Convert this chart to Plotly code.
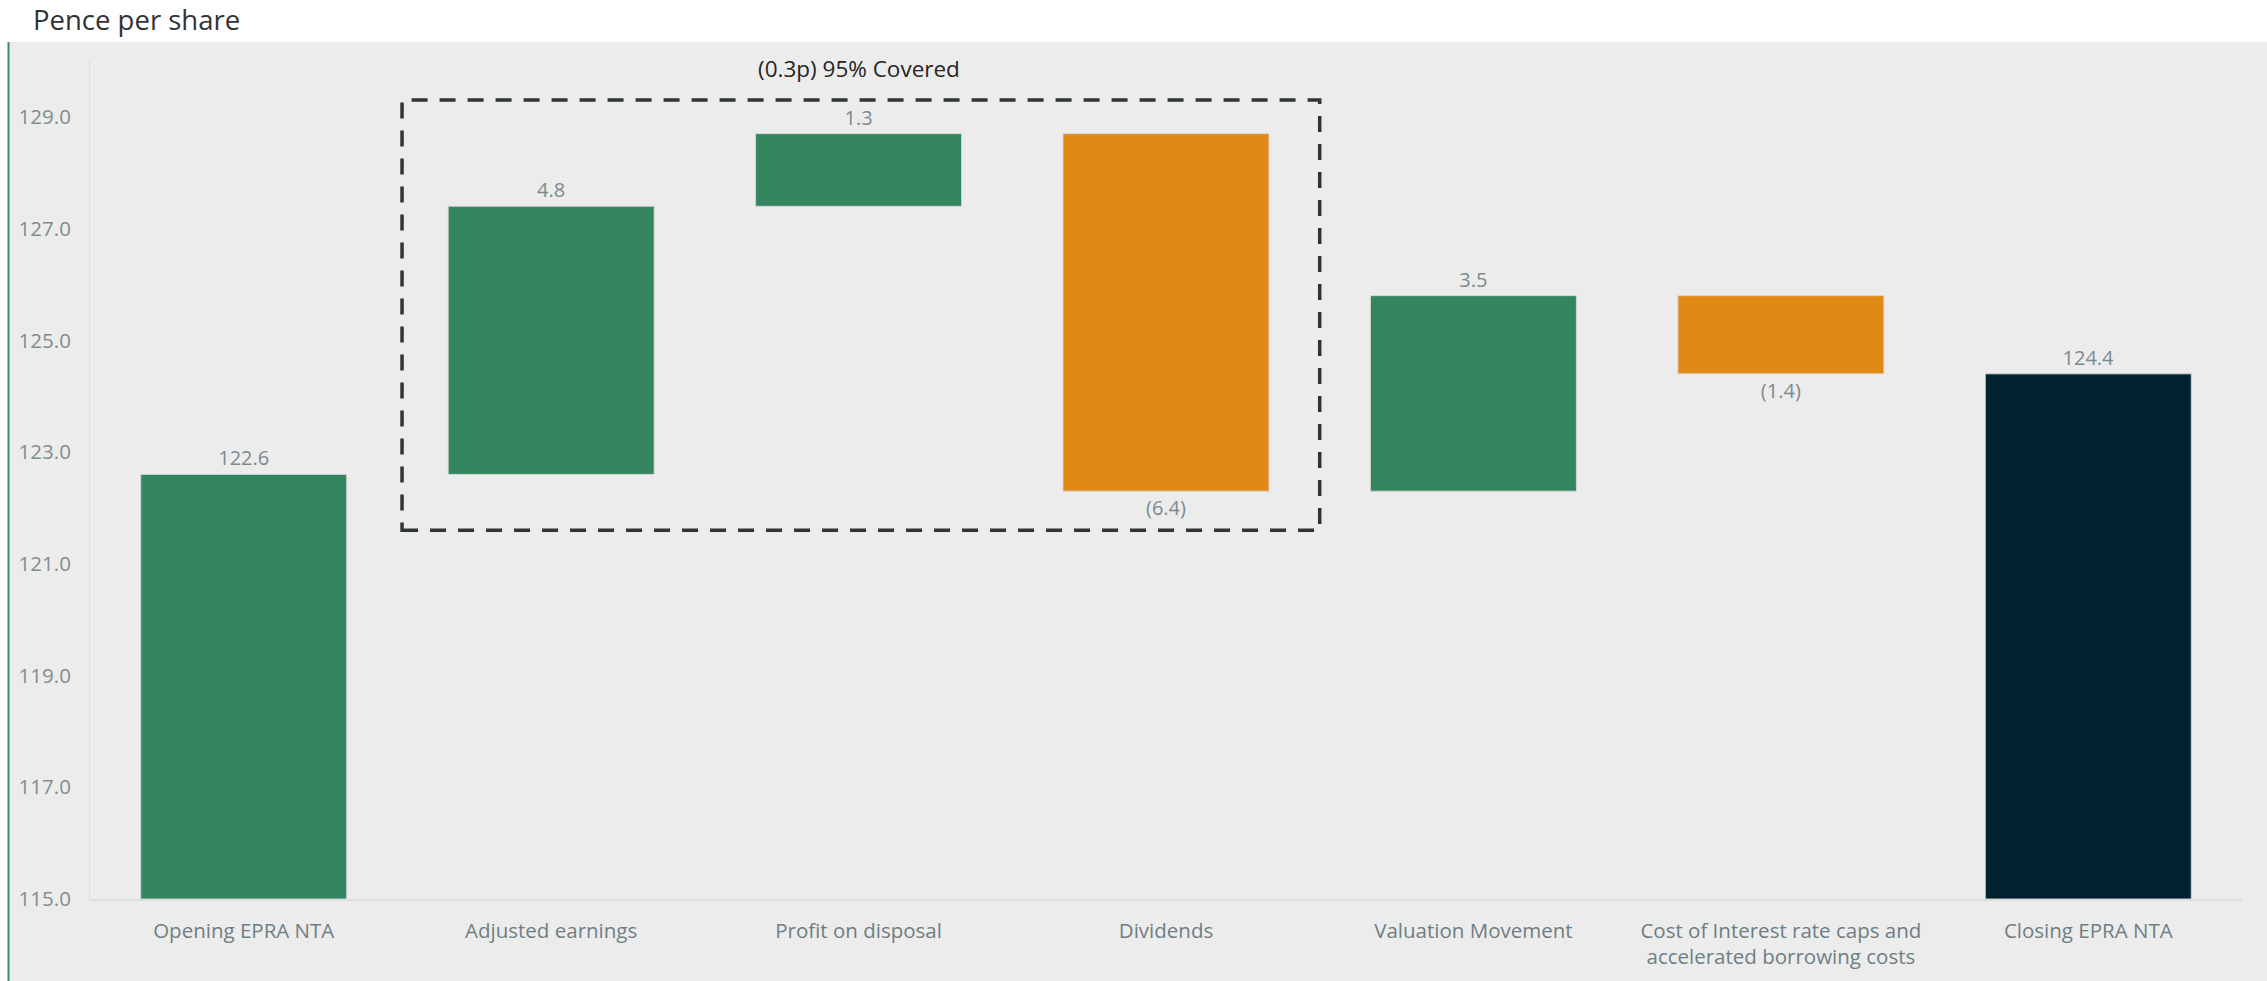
import plotly.graph_objects as go

categories = ["Opening EPRA NTA", "Adjusted earnings", "Profit on disposal", "Dividends",
              "Valuation Movement", "Cost of Interest rate caps and<br>accelerated borrowing costs",
              "Closing EPRA NTA"]
opening = 122.6
movements = [4.8, 1.3, -6.4, 3.5, -1.4]
closing = 124.4
floor_value = 115.0
y_ticks = [115, 117, 119, 121, 123, 125, 127, 129]
box_note = "(0.3p) 95% Covered"

GREEN = "#33865f"
ORANGE = "#e08915"
NAVY = "#03222f"
LABEL = "#7b8a90"

# build bars
bases, heights, colors, texts = [], [], [], []
bases.append(floor_value); heights.append(opening - floor_value); colors.append(GREEN); texts.append(f"{opening:.1f}")
level = opening
for m in movements:
    bases.append(level); heights.append(m)
    colors.append(GREEN if m >= 0 else ORANGE)
    texts.append(f"{m:.1f}" if m >= 0 else f"({abs(m):.1f})")
    level += m
bases.append(floor_value); heights.append(closing - floor_value); colors.append(NAVY); texts.append(f"{closing:.1f}")

W, H = 2267, 981
L, R, T, B = 90, 25, 61, 82
pw, ph = W - L - R, H - T - B

def px_x(px):
    return (px - L) / pw

def px_y(py):
    return (H - B - py) / ph

fig = go.Figure()
fig.add_trace(go.Bar(
    x=list(range(len(categories))), y=heights, base=bases,
    marker=dict(color=colors, line=dict(color="rgba(215,215,215,0.9)", width=1)),
    width=0.67,
    text=texts, textposition="outside",
    outsidetextfont=dict(family="Open Sans", size=20, color=LABEL),
    cliponaxis=False, hoverinfo="skip",
))

shapes = [
    # white top band and left strip
    dict(type="rect", xref="paper", yref="paper", x0=px_x(-5), x1=px_x(W + 5), y0=px_y(42), y1=px_y(-5),
         fillcolor="white", line=dict(width=0), layer="below"),
    dict(type="rect", xref="paper", yref="paper", x0=px_x(-5), x1=px_x(8), y0=px_y(H + 5), y1=px_y(-5),
         fillcolor="white", line=dict(width=0), layer="below"),
    dict(type="line", xref="paper", yref="paper", x0=px_x(8.5), x1=px_x(8.5), y0=px_y(H + 5), y1=px_y(42),
         line=dict(color="#3a8f63", width=2)),
    # dashed box
    dict(type="rect", xref="x", yref="y", x0=0.515, x1=3.5, y0=121.6, y1=129.3,
         line=dict(color="#2f3536", width=3.5, dash="16px,12px"), fillcolor="rgba(0,0,0,0)"),
]

fig.update_layout(
    width=W, height=H,
    margin=dict(l=L, r=R, t=T, b=B),
    paper_bgcolor="#ececec", plot_bgcolor="#ececec",
    showlegend=False,
    shapes=shapes,
    bargap=0.33,
    annotations=[
        dict(text="Pence per share", xref="paper", yref="paper", x=px_x(31), y=px_y(20),
             xanchor="left", yanchor="middle", showarrow=False,
             font=dict(family="Open Sans", size=27.5, color="#333333")),
        dict(text=box_note, xref="x", yref="y", x=2, y=129.86, xanchor="center", yanchor="middle",
             showarrow=False, font=dict(family="Open Sans", size=22.5, color="#252525")),
    ],
)
fig.update_xaxes(
    tickmode="array", tickvals=list(range(len(categories))), ticktext=categories,
    range=[-0.5, len(categories) - 0.5],
    showgrid=False, zeroline=False, showline=True, linecolor="#dcdedf", linewidth=2,
    tickfont=dict(family="Open Sans", size=20.5, color="#6e7e84"),
    ticks="", ticklabelstandoff=12,
)
fig.update_yaxes(
    range=[115, 130], tickvals=y_ticks, ticktext=[f"{v:.1f}" for v in y_ticks],
    showgrid=False, zeroline=False, showline=True, linecolor="#dadcdd", linewidth=1,
    tickfont=dict(family="Open Sans", size=20.5, color="#808d92"),
    ticks="", ticklabelstandoff=14,
)

fig.write_html("out.html")
